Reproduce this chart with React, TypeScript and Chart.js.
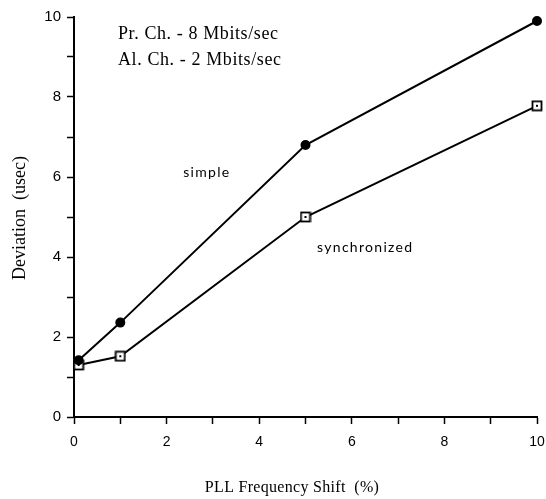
import React, { useEffect, useRef } from 'react';
import { Chart, registerables } from 'chart.js';

Chart.register(...registerables);

// Data
const freqShift = [0.1, 1, 5, 10];
const simpleDev = [1.42, 2.36, 6.8, 9.9];
const syncDev = [1.3, 1.52, 5.0, 7.78];

const xTitle = 'PLL Frequency Shift  (%)';
const yTitle = 'Deviation  (usec)';
const headerLines = ['Pr. Ch. - 8 Mbits/sec', 'Al. Ch. - 2 Mbits/sec'];
const seriesLabels = ['simple', 'synchronized'];
// annotation anchor positions in data units
const headerAnchor = { x: 0.95, y: [9.58, 8.93] };
const simpleLabelAt = { x: 2.87, y: 6.12 };
const syncLabelAt = { x: 6.29, y: 4.25 };

function makeSquareMarker(): HTMLCanvasElement {
  const c = document.createElement('canvas');
  c.width = 12;
  c.height = 12;
  const g = c.getContext('2d')!;
  g.fillStyle = '#ffffff';
  g.fillRect(1, 1, 10, 10);
  g.strokeStyle = '#000000';
  g.lineWidth = 1.8;
  g.strokeRect(1.5, 1.5, 9, 9);
  g.fillStyle = '#000000';
  g.fillRect(5, 5, 2, 2);
  return c;
}

const textPlugin = {
  id: 'textPlugin',
  afterDraw(chart: any) {
    const { ctx, scales, chartArea } = chart;
    const xs = scales.x;
    const ys = scales.y;
    ctx.save();
    ctx.fillStyle = '#000';
    ctx.textBaseline = 'middle';
    // header
    ctx.font = '18px "Liberation Serif"';
    ctx.textAlign = 'left';
    (ctx as any).letterSpacing = '0.6px';
    headerLines.forEach((t, i) => {
      ctx.fillText(t, xs.getPixelForValue(headerAnchor.x), ys.getPixelForValue(headerAnchor.y[i]));
    });
    // series labels
    ctx.font = '14px Lato';
    ctx.textAlign = 'center';
    (ctx as any).letterSpacing = '1.3px';
    ctx.fillText(seriesLabels[0], xs.getPixelForValue(simpleLabelAt.x), ys.getPixelForValue(simpleLabelAt.y));
    ctx.fillText(seriesLabels[1], xs.getPixelForValue(syncLabelAt.x), ys.getPixelForValue(syncLabelAt.y));
    (ctx as any).letterSpacing = '0.3px';
    // axis titles
    ctx.font = '16px "Liberation Serif"';
    ctx.fillText(xTitle, 292, chartArea.bottom + 71);
    (ctx as any).letterSpacing = '0px';
    ctx.font = '18px "Liberation Serif"';
    ctx.translate(20, (chartArea.top + chartArea.bottom) / 2 + 1);
    ctx.rotate(-Math.PI / 2);
    ctx.fillText(yTitle, 0, 0);
    ctx.restore();
  },
};

export default function App() {
  const ref = useRef<HTMLCanvasElement | null>(null);
  useEffect(() => {
    document.body.style.margin = '0';
    const canvas = ref.current!;
    const marker = makeSquareMarker();
    const chart = new Chart(canvas, {
      type: 'line',
      data: {
        datasets: [
          {
            label: seriesLabels[0],
            data: freqShift.map((x, i) => ({ x, y: simpleDev[i] })),
            borderColor: '#000',
            backgroundColor: '#000',
            borderWidth: 2,
            pointStyle: 'circle',
            pointRadius: 4,
            pointBackgroundColor: '#000',
            pointBorderColor: '#000',
            tension: 0,
            clip: false as any,
          },
          {
            label: seriesLabels[1],
            data: freqShift.map((x, i) => ({ x, y: syncDev[i] })),
            borderColor: '#000',
            backgroundColor: '#fff',
            borderWidth: 2,
            pointStyle: marker as any,
            pointRadius: 5,
            tension: 0,
            clip: false as any,
          },
        ],
      },
      options: {
        responsive: false,
        animation: false,
        layout: { padding: { top: 17, right: 9, left: 0, bottom: 0 } },
        plugins: {
          legend: { display: false },
          tooltip: { enabled: false },
        },
        scales: {
          x: {
            type: 'linear',
            min: 0,
            max: 10,
            afterFit: (s: any) => {
              s.height = 82;
              s.paddingLeft = 0;
              s.paddingRight = 0;
            },
            border: { color: '#000', width: 2 },
            grid: { drawOnChartArea: false, tickLength: 7, color: '#000', tickWidth: 1.5 } as any,
            ticks: {
              stepSize: 1,
              autoSkip: false,
              maxRotation: 0,
              padding: 10,
              color: '#000',
              font: { family: '"Liberation Sans"', size: 14 },
              callback: (v: any) => (Number(v) % 2 === 0 ? String(v) : ''),
            },
          },
          y: {
            type: 'linear',
            min: 0,
            max: 10,
            afterFit: (s: any) => {
              s.width = 74;
              s.paddingTop = 0;
              s.paddingBottom = 0;
            },
            border: { color: '#000', width: 2 },
            grid: { drawOnChartArea: false, tickLength: 7, color: '#000', tickWidth: 1.5 } as any,
            ticks: {
              stepSize: 1,
              autoSkip: false,
              padding: 6,
              color: '#000',
              font: { family: '"Liberation Sans"', size: 15 },
              callback: (v: any) => (Number(v) % 2 === 0 ? String(v) : ''),
            },
          },
        },
      },
      plugins: [textPlugin],
    });
    return () => chart.destroy();
  }, []);
  return (
    <div style={{ width: 546, height: 499 }}>
      <canvas ref={ref} width={546} height={499} />
    </div>
  );
}
